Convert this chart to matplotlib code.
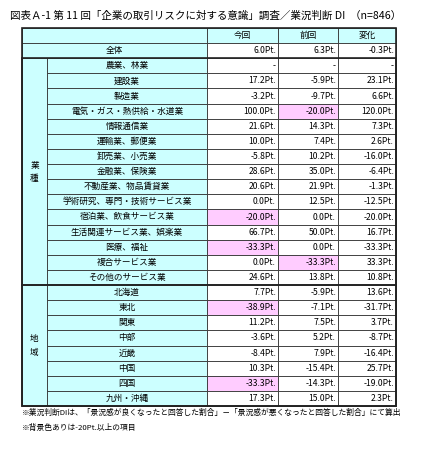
import matplotlib
matplotlib.use("Agg")
import matplotlib.pyplot as plt
from matplotlib.patches import Rectangle

plt.rcParams['font.family'] = ['Noto Sans CJK JP', 'DejaVu Sans']

columns = ["今回", "前回", "変化"]
total = ["6.0Pt.", "6.3Pt.", "-0.3Pt."]
industries = ["農業、林業", "建設業", "製造業", "電気・ガス・熱供給・水道業", "情報通信業", "運輸業、郵便業",
              "卸売業、小売業", "金融業、保険業", "不動産業、物品賃貸業", "学術研究、専門・技術サービス業",
              "宿泊業、飲食サービス業", "生活関連サービス業、娯楽業", "医療、福祉", "複合サービス業", "その他のサービス業"]
ind_now = ["-", "17.2Pt.", "-3.2Pt.", "100.0Pt.", "21.6Pt.", "10.0Pt.", "-5.8Pt.", "28.6Pt.", "20.6Pt.", "0.0Pt.",
           "-20.0Pt.", "66.7Pt.", "-33.3Pt.", "0.0Pt.", "24.6Pt."]
ind_prev = ["-", "-5.9Pt.", "-9.7Pt.", "-20.0Pt.", "14.3Pt.", "7.4Pt.", "10.2Pt.", "35.0Pt.", "21.9Pt.", "12.5Pt.",
            "0.0Pt.", "50.0Pt.", "0.0Pt.", "-33.3Pt.", "13.8Pt."]
ind_chg = ["-", "23.1Pt.", "6.6Pt.", "120.0Pt.", "7.3Pt.", "2.6Pt.", "-16.0Pt.", "-6.4Pt.", "-1.3Pt.", "-12.5Pt.",
           "-20.0Pt.", "16.7Pt.", "-33.3Pt.", "33.3Pt.", "10.8Pt."]
regions = ["北海道", "東北", "関東", "中部", "近畿", "中国", "四国", "九州・沖縄"]
reg_now = ["7.7Pt.", "-38.9Pt.", "11.2Pt.", "-3.6Pt.", "-8.4Pt.", "10.3Pt.", "-33.3Pt.", "17.3Pt."]
reg_prev = ["-5.9Pt.", "-7.1Pt.", "7.5Pt.", "5.2Pt.", "7.9Pt.", "-15.4Pt.", "-14.3Pt.", "15.0Pt."]
reg_chg = ["13.6Pt.", "-31.7Pt.", "3.7Pt.", "-8.7Pt.", "-16.4Pt.", "25.7Pt.", "-19.0Pt.", "2.3Pt."]

CYAN = "#ccffff"
PINK = "#ffccff"

fig = plt.figure(figsize=(4.27, 4.5), dpi=100)
ax = fig.add_axes([0, 0, 1, 1])
ax.set_xlim(0, 427)
ax.set_ylim(450, 0)
ax.axis("off")

xg0, xg1, xl1 = 22, 47, 207
xc = [207, 278, 338, 396]
top = 28
rh = (406 - 28) / 25
fs = 6.2

def y(i):
    return top + i * rh

def cell(x0, y0, w, h, fc="white", lw=0.6):
    ax.add_patch(Rectangle((x0, y0), w, h, facecolor=fc, edgecolor="#333333", lw=lw))

def flag(v, j):
    if v == "-" or j == 2:
        return False
    return float(v.replace("Pt.", "")) <= -20

# header
cell(xg0, y(0), xl1 - xg0, rh, CYAN)
for j, c in enumerate(columns):
    cell(xc[j], y(0), xc[j + 1] - xc[j], rh, CYAN)
    ax.text((xc[j] + xc[j + 1]) / 2, y(0) + rh / 2, c, ha="center", va="center", fontsize=fs)
# total
cell(xg0, y(1), xl1 - xg0, rh, CYAN)
ax.text((xg0 + xl1) / 2, y(1) + rh / 2, "全体", ha="center", va="center", fontsize=fs)
for j, v in enumerate(total):
    cell(xc[j], y(1), xc[j + 1] - xc[j], rh, PINK if flag(v, j) else "white")
    ax.text(xc[j + 1] - 2, y(1) + rh / 2, v, ha="right", va="center", fontsize=fs)

def block(start, labels, cols, group):
    n = len(labels)
    cell(xg0, y(start), xg1 - xg0, n * rh, CYAN)
    ax.text((xg0 + xg1) / 2, y(start) + n * rh / 2, "\n".join(group), ha="center", va="center",
            fontsize=fs, linespacing=1.6)
    for i, lab in enumerate(labels):
        r = start + i
        cell(xg1, y(r), xl1 - xg1, rh, CYAN)
        ax.text((xg1 + xl1) / 2, y(r) + rh / 2, lab, ha="center", va="center", fontsize=fs)
        for j in range(3):
            v = cols[j][i]
            cell(xc[j], y(r), xc[j + 1] - xc[j], rh, PINK if flag(v, j) else "white")
            ax.text(xc[j + 1] - 2, y(r) + rh / 2, v, ha="right", va="center", fontsize=fs)
    ax.add_patch(Rectangle((xg0, y(start)), xc[-1] - xg0, n * rh, fill=False, edgecolor="#222222", lw=1.2))

block(2, industries, [ind_now, ind_prev, ind_chg], "業種")
block(17, regions, [reg_now, reg_prev, reg_chg], "地域")
ax.add_patch(Rectangle((xg0, y(0)), xc[-1] - xg0, 25 * rh, fill=False, edgecolor="#222222", lw=1.2))

ax.text(10, 16, "図表Ａ-1 第 11 回「企業の取引リスクに対する意識」調査／業況判断 DI  （n=846）",
        ha="left", va="center", fontsize=7.6)
ax.text(22, 413, "※業況判断DIは、「景況感が良くなったと回答した割合」－「景況感が悪くなったと回答した割合」にて算出",
        ha="left", va="center", fontsize=5.6)
ax.text(22, 428, "※背景色ありは-20Pt.以上の項目", ha="left", va="center", fontsize=5.6)

fig.savefig("out.png", dpi=100)
